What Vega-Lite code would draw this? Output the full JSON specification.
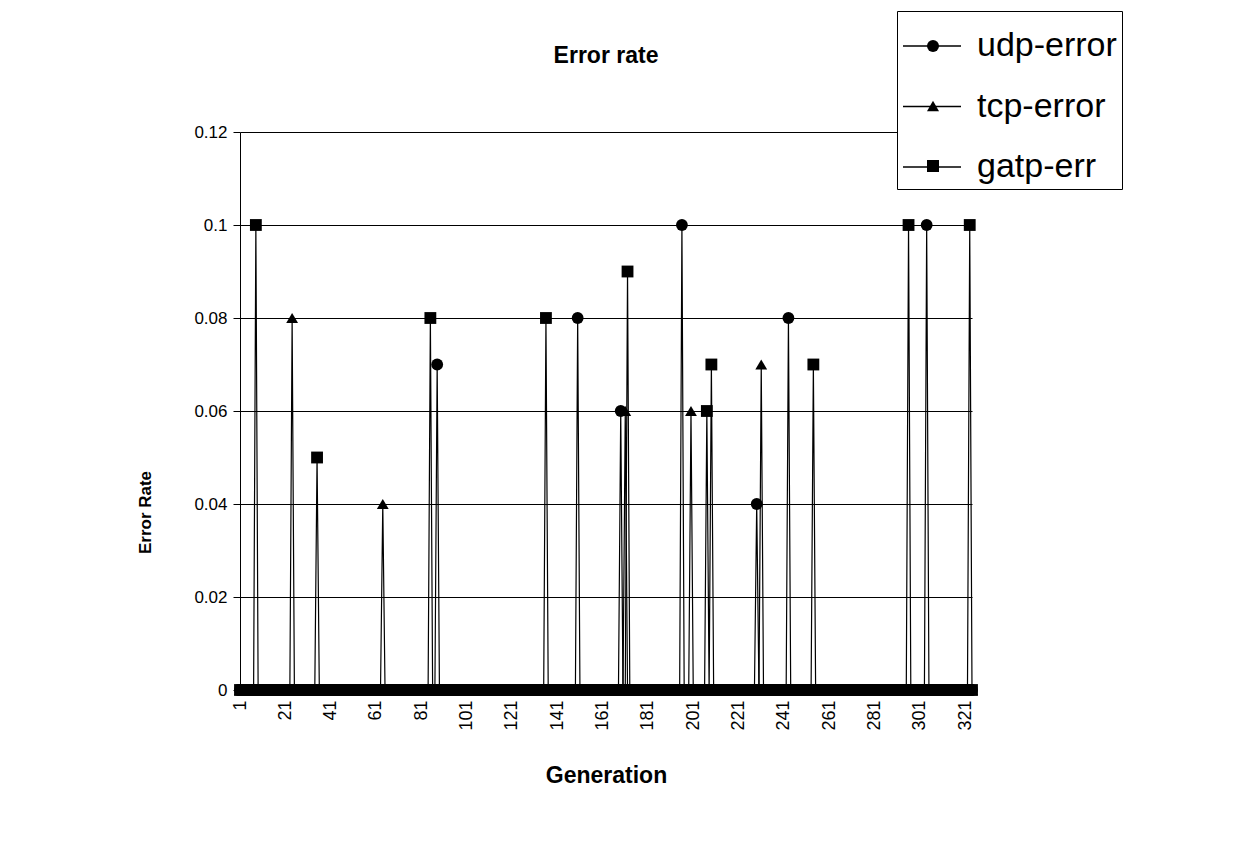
{
  "$schema": "https://vega.github.io/schema/vega-lite/v6.json",
  "width": 732,
  "height": 558,
  "autosize": "none",
  "padding": {"left": 240, "top": 132, "right": 277, "bottom": 155},
  "background": "white",
  "config": {
    "font": "Liberation Sans",
    "view": {"stroke": null},
    "axis": {"labelColor": "black", "titleColor": "black", "domainColor": "black", "tickColor": "black", "labelFont": "Liberation Sans", "titleFont": "Liberation Sans"}
  },
  "title": {"text": "Error rate", "fontSize": 23, "fontWeight": "bold", "font": "Liberation Sans", "color": "black", "anchor": "middle", "baseline": "bottom", "offset": -80},
  "data": {"values": [
{"g":1,"u":0,"t":0,"a":0},{"g":2,"u":0,"t":0,"a":0},{"g":3,"u":0,"t":0,"a":0},{"g":4,"u":0,"t":0,"a":0},{"g":5,"u":0,"t":0,"a":0},{"g":6,"u":0,"t":0,"a":0},{"g":7,"u":0,"t":0,"a":0},{"g":8,"u":0,"t":0,"a":0.1},{"g":9,"u":0,"t":0,"a":0},{"g":10,"u":0,"t":0,"a":0},
{"g":11,"u":0,"t":0,"a":0},{"g":12,"u":0,"t":0,"a":0},{"g":13,"u":0,"t":0,"a":0},{"g":14,"u":0,"t":0,"a":0},{"g":15,"u":0,"t":0,"a":0},{"g":16,"u":0,"t":0,"a":0},{"g":17,"u":0,"t":0,"a":0},{"g":18,"u":0,"t":0,"a":0},{"g":19,"u":0,"t":0,"a":0},{"g":20,"u":0,"t":0,"a":0},
{"g":21,"u":0,"t":0,"a":0},{"g":22,"u":0,"t":0,"a":0},{"g":23,"u":0,"t":0,"a":0},{"g":24,"u":0,"t":0.08,"a":0},{"g":25,"u":0,"t":0,"a":0},{"g":26,"u":0,"t":0,"a":0},{"g":27,"u":0,"t":0,"a":0},{"g":28,"u":0,"t":0,"a":0},{"g":29,"u":0,"t":0,"a":0},{"g":30,"u":0,"t":0,"a":0},
{"g":31,"u":0,"t":0,"a":0},{"g":32,"u":0,"t":0,"a":0},{"g":33,"u":0,"t":0,"a":0},{"g":34,"u":0,"t":0,"a":0},{"g":35,"u":0,"t":0,"a":0.05},{"g":36,"u":0,"t":0,"a":0},{"g":37,"u":0,"t":0,"a":0},{"g":38,"u":0,"t":0,"a":0},{"g":39,"u":0,"t":0,"a":0},{"g":40,"u":0,"t":0,"a":0},
{"g":41,"u":0,"t":0,"a":0},{"g":42,"u":0,"t":0,"a":0},{"g":43,"u":0,"t":0,"a":0},{"g":44,"u":0,"t":0,"a":0},{"g":45,"u":0,"t":0,"a":0},{"g":46,"u":0,"t":0,"a":0},{"g":47,"u":0,"t":0,"a":0},{"g":48,"u":0,"t":0,"a":0},{"g":49,"u":0,"t":0,"a":0},{"g":50,"u":0,"t":0,"a":0},
{"g":51,"u":0,"t":0,"a":0},{"g":52,"u":0,"t":0,"a":0},{"g":53,"u":0,"t":0,"a":0},{"g":54,"u":0,"t":0,"a":0},{"g":55,"u":0,"t":0,"a":0},{"g":56,"u":0,"t":0,"a":0},{"g":57,"u":0,"t":0,"a":0},{"g":58,"u":0,"t":0,"a":0},{"g":59,"u":0,"t":0,"a":0},{"g":60,"u":0,"t":0,"a":0},
{"g":61,"u":0,"t":0,"a":0},{"g":62,"u":0,"t":0,"a":0},{"g":63,"u":0,"t":0,"a":0},{"g":64,"u":0,"t":0.04,"a":0},{"g":65,"u":0,"t":0,"a":0},{"g":66,"u":0,"t":0,"a":0},{"g":67,"u":0,"t":0,"a":0},{"g":68,"u":0,"t":0,"a":0},{"g":69,"u":0,"t":0,"a":0},{"g":70,"u":0,"t":0,"a":0},
{"g":71,"u":0,"t":0,"a":0},{"g":72,"u":0,"t":0,"a":0},{"g":73,"u":0,"t":0,"a":0},{"g":74,"u":0,"t":0,"a":0},{"g":75,"u":0,"t":0,"a":0},{"g":76,"u":0,"t":0,"a":0},{"g":77,"u":0,"t":0,"a":0},{"g":78,"u":0,"t":0,"a":0},{"g":79,"u":0,"t":0,"a":0},{"g":80,"u":0,"t":0,"a":0},
{"g":81,"u":0,"t":0,"a":0},{"g":82,"u":0,"t":0,"a":0},{"g":83,"u":0,"t":0,"a":0},{"g":84,"u":0,"t":0,"a":0},{"g":85,"u":0,"t":0,"a":0.08},{"g":86,"u":0,"t":0,"a":0},{"g":87,"u":0,"t":0,"a":0},{"g":88,"u":0.07,"t":0,"a":0},{"g":89,"u":0,"t":0,"a":0},{"g":90,"u":0,"t":0,"a":0},
{"g":91,"u":0,"t":0,"a":0},{"g":92,"u":0,"t":0,"a":0},{"g":93,"u":0,"t":0,"a":0},{"g":94,"u":0,"t":0,"a":0},{"g":95,"u":0,"t":0,"a":0},{"g":96,"u":0,"t":0,"a":0},{"g":97,"u":0,"t":0,"a":0},{"g":98,"u":0,"t":0,"a":0},{"g":99,"u":0,"t":0,"a":0},{"g":100,"u":0,"t":0,"a":0},
{"g":101,"u":0,"t":0,"a":0},{"g":102,"u":0,"t":0,"a":0},{"g":103,"u":0,"t":0,"a":0},{"g":104,"u":0,"t":0,"a":0},{"g":105,"u":0,"t":0,"a":0},{"g":106,"u":0,"t":0,"a":0},{"g":107,"u":0,"t":0,"a":0},{"g":108,"u":0,"t":0,"a":0},{"g":109,"u":0,"t":0,"a":0},{"g":110,"u":0,"t":0,"a":0},
{"g":111,"u":0,"t":0,"a":0},{"g":112,"u":0,"t":0,"a":0},{"g":113,"u":0,"t":0,"a":0},{"g":114,"u":0,"t":0,"a":0},{"g":115,"u":0,"t":0,"a":0},{"g":116,"u":0,"t":0,"a":0},{"g":117,"u":0,"t":0,"a":0},{"g":118,"u":0,"t":0,"a":0},{"g":119,"u":0,"t":0,"a":0},{"g":120,"u":0,"t":0,"a":0},
{"g":121,"u":0,"t":0,"a":0},{"g":122,"u":0,"t":0,"a":0},{"g":123,"u":0,"t":0,"a":0},{"g":124,"u":0,"t":0,"a":0},{"g":125,"u":0,"t":0,"a":0},{"g":126,"u":0,"t":0,"a":0},{"g":127,"u":0,"t":0,"a":0},{"g":128,"u":0,"t":0,"a":0},{"g":129,"u":0,"t":0,"a":0},{"g":130,"u":0,"t":0,"a":0},
{"g":131,"u":0,"t":0,"a":0},{"g":132,"u":0,"t":0,"a":0},{"g":133,"u":0,"t":0,"a":0},{"g":134,"u":0,"t":0,"a":0},{"g":135,"u":0,"t":0,"a":0},{"g":136,"u":0,"t":0,"a":0.08},{"g":137,"u":0,"t":0,"a":0},{"g":138,"u":0,"t":0,"a":0},{"g":139,"u":0,"t":0,"a":0},{"g":140,"u":0,"t":0,"a":0},
{"g":141,"u":0,"t":0,"a":0},{"g":142,"u":0,"t":0,"a":0},{"g":143,"u":0,"t":0,"a":0},{"g":144,"u":0,"t":0,"a":0},{"g":145,"u":0,"t":0,"a":0},{"g":146,"u":0,"t":0,"a":0},{"g":147,"u":0,"t":0,"a":0},{"g":148,"u":0,"t":0,"a":0},{"g":149,"u":0,"t":0,"a":0},{"g":150,"u":0.08,"t":0,"a":0},
{"g":151,"u":0,"t":0,"a":0},{"g":152,"u":0,"t":0,"a":0},{"g":153,"u":0,"t":0,"a":0},{"g":154,"u":0,"t":0,"a":0},{"g":155,"u":0,"t":0,"a":0},{"g":156,"u":0,"t":0,"a":0},{"g":157,"u":0,"t":0,"a":0},{"g":158,"u":0,"t":0,"a":0},{"g":159,"u":0,"t":0,"a":0},{"g":160,"u":0,"t":0,"a":0},
{"g":161,"u":0,"t":0,"a":0},{"g":162,"u":0,"t":0,"a":0},{"g":163,"u":0,"t":0,"a":0},{"g":164,"u":0,"t":0,"a":0},{"g":165,"u":0,"t":0,"a":0},{"g":166,"u":0,"t":0,"a":0},{"g":167,"u":0,"t":0,"a":0},{"g":168,"u":0,"t":0,"a":0},{"g":169,"u":0.06,"t":0,"a":0},{"g":170,"u":0,"t":0,"a":0},
{"g":171,"u":0,"t":0.06,"a":0},{"g":172,"u":0,"t":0,"a":0.09},{"g":173,"u":0,"t":0,"a":0},{"g":174,"u":0,"t":0,"a":0},{"g":175,"u":0,"t":0,"a":0},{"g":176,"u":0,"t":0,"a":0},{"g":177,"u":0,"t":0,"a":0},{"g":178,"u":0,"t":0,"a":0},{"g":179,"u":0,"t":0,"a":0},{"g":180,"u":0,"t":0,"a":0},
{"g":181,"u":0,"t":0,"a":0},{"g":182,"u":0,"t":0,"a":0},{"g":183,"u":0,"t":0,"a":0},{"g":184,"u":0,"t":0,"a":0},{"g":185,"u":0,"t":0,"a":0},{"g":186,"u":0,"t":0,"a":0},{"g":187,"u":0,"t":0,"a":0},{"g":188,"u":0,"t":0,"a":0},{"g":189,"u":0,"t":0,"a":0},{"g":190,"u":0,"t":0,"a":0},
{"g":191,"u":0,"t":0,"a":0},{"g":192,"u":0,"t":0,"a":0},{"g":193,"u":0,"t":0,"a":0},{"g":194,"u":0,"t":0,"a":0},{"g":195,"u":0,"t":0,"a":0},{"g":196,"u":0.1,"t":0,"a":0},{"g":197,"u":0,"t":0,"a":0},{"g":198,"u":0,"t":0,"a":0},{"g":199,"u":0,"t":0,"a":0},{"g":200,"u":0,"t":0.06,"a":0},
{"g":201,"u":0,"t":0,"a":0},{"g":202,"u":0,"t":0,"a":0},{"g":203,"u":0,"t":0,"a":0},{"g":204,"u":0,"t":0,"a":0},{"g":205,"u":0,"t":0,"a":0},{"g":206,"u":0,"t":0,"a":0},{"g":207,"u":0,"t":0,"a":0.06},{"g":208,"u":0,"t":0,"a":0},{"g":209,"u":0,"t":0,"a":0.07},{"g":210,"u":0,"t":0,"a":0},
{"g":211,"u":0,"t":0,"a":0},{"g":212,"u":0,"t":0,"a":0},{"g":213,"u":0,"t":0,"a":0},{"g":214,"u":0,"t":0,"a":0},{"g":215,"u":0,"t":0,"a":0},{"g":216,"u":0,"t":0,"a":0},{"g":217,"u":0,"t":0,"a":0},{"g":218,"u":0,"t":0,"a":0},{"g":219,"u":0,"t":0,"a":0},{"g":220,"u":0,"t":0,"a":0},
{"g":221,"u":0,"t":0,"a":0},{"g":222,"u":0,"t":0,"a":0},{"g":223,"u":0,"t":0,"a":0},{"g":224,"u":0,"t":0,"a":0},{"g":225,"u":0,"t":0,"a":0},{"g":226,"u":0,"t":0,"a":0},{"g":227,"u":0,"t":0,"a":0},{"g":228,"u":0,"t":0,"a":0},{"g":229,"u":0.04,"t":0,"a":0},{"g":230,"u":0,"t":0,"a":0},
{"g":231,"u":0,"t":0.07,"a":0},{"g":232,"u":0,"t":0,"a":0},{"g":233,"u":0,"t":0,"a":0},{"g":234,"u":0,"t":0,"a":0},{"g":235,"u":0,"t":0,"a":0},{"g":236,"u":0,"t":0,"a":0},{"g":237,"u":0,"t":0,"a":0},{"g":238,"u":0,"t":0,"a":0},{"g":239,"u":0,"t":0,"a":0},{"g":240,"u":0,"t":0,"a":0},
{"g":241,"u":0,"t":0,"a":0},{"g":242,"u":0,"t":0,"a":0},{"g":243,"u":0.08,"t":0,"a":0},{"g":244,"u":0,"t":0,"a":0},{"g":245,"u":0,"t":0,"a":0},{"g":246,"u":0,"t":0,"a":0},{"g":247,"u":0,"t":0,"a":0},{"g":248,"u":0,"t":0,"a":0},{"g":249,"u":0,"t":0,"a":0},{"g":250,"u":0,"t":0,"a":0},
{"g":251,"u":0,"t":0,"a":0},{"g":252,"u":0,"t":0,"a":0},{"g":253,"u":0,"t":0,"a":0},{"g":254,"u":0,"t":0,"a":0.07},{"g":255,"u":0,"t":0,"a":0},{"g":256,"u":0,"t":0,"a":0},{"g":257,"u":0,"t":0,"a":0},{"g":258,"u":0,"t":0,"a":0},{"g":259,"u":0,"t":0,"a":0},{"g":260,"u":0,"t":0,"a":0},
{"g":261,"u":0,"t":0,"a":0},{"g":262,"u":0,"t":0,"a":0},{"g":263,"u":0,"t":0,"a":0},{"g":264,"u":0,"t":0,"a":0},{"g":265,"u":0,"t":0,"a":0},{"g":266,"u":0,"t":0,"a":0},{"g":267,"u":0,"t":0,"a":0},{"g":268,"u":0,"t":0,"a":0},{"g":269,"u":0,"t":0,"a":0},{"g":270,"u":0,"t":0,"a":0},
{"g":271,"u":0,"t":0,"a":0},{"g":272,"u":0,"t":0,"a":0},{"g":273,"u":0,"t":0,"a":0},{"g":274,"u":0,"t":0,"a":0},{"g":275,"u":0,"t":0,"a":0},{"g":276,"u":0,"t":0,"a":0},{"g":277,"u":0,"t":0,"a":0},{"g":278,"u":0,"t":0,"a":0},{"g":279,"u":0,"t":0,"a":0},{"g":280,"u":0,"t":0,"a":0},
{"g":281,"u":0,"t":0,"a":0},{"g":282,"u":0,"t":0,"a":0},{"g":283,"u":0,"t":0,"a":0},{"g":284,"u":0,"t":0,"a":0},{"g":285,"u":0,"t":0,"a":0},{"g":286,"u":0,"t":0,"a":0},{"g":287,"u":0,"t":0,"a":0},{"g":288,"u":0,"t":0,"a":0},{"g":289,"u":0,"t":0,"a":0},{"g":290,"u":0,"t":0,"a":0},
{"g":291,"u":0,"t":0,"a":0},{"g":292,"u":0,"t":0,"a":0},{"g":293,"u":0,"t":0,"a":0},{"g":294,"u":0,"t":0,"a":0},{"g":295,"u":0,"t":0,"a":0},{"g":296,"u":0,"t":0,"a":0.1},{"g":297,"u":0,"t":0,"a":0},{"g":298,"u":0,"t":0,"a":0},{"g":299,"u":0,"t":0,"a":0},{"g":300,"u":0,"t":0,"a":0},
{"g":301,"u":0,"t":0,"a":0},{"g":302,"u":0,"t":0,"a":0},{"g":303,"u":0,"t":0,"a":0},{"g":304,"u":0.1,"t":0,"a":0},{"g":305,"u":0,"t":0,"a":0},{"g":306,"u":0,"t":0,"a":0},{"g":307,"u":0,"t":0,"a":0},{"g":308,"u":0,"t":0,"a":0},{"g":309,"u":0,"t":0,"a":0},{"g":310,"u":0,"t":0,"a":0},
{"g":311,"u":0,"t":0,"a":0},{"g":312,"u":0,"t":0,"a":0},{"g":313,"u":0,"t":0,"a":0},{"g":314,"u":0,"t":0,"a":0},{"g":315,"u":0,"t":0,"a":0},{"g":316,"u":0,"t":0,"a":0},{"g":317,"u":0,"t":0,"a":0},{"g":318,"u":0,"t":0,"a":0},{"g":319,"u":0,"t":0,"a":0},{"g":320,"u":0,"t":0,"a":0},
{"g":321,"u":0,"t":0,"a":0},{"g":322,"u":0,"t":0,"a":0},{"g":323,"u":0,"t":0,"a":0.1},{"g":324,"u":0,"t":0,"a":0}
  ]},
  "transform": [{"fold": ["u", "t", "a"], "as": ["s", "v"]}],
  "encoding": {
    "x": {"field": "g", "type": "quantitative", "title": "Generation",
      "scale": {"domain": [1, 324], "nice": false, "zero": false},
      "axis": {"values": [1,21,41,61,81,101,121,141,161,181,201,221,241,261,281,301,321], "format": "d", "labelAngle": -90, "labelFontSize": 18, "labelPadding": 10, "ticks": false, "grid": false, "domain": true, "titleFontSize": 23, "titleFontWeight": "bold", "titleY": 85, "titleBaseline": "middle"}},
    "y": {"field": "v", "type": "quantitative", "title": "Error Rate",
      "scale": {"domain": [0, 0.12], "nice": false},
      "axis": {"values": [0,0.02,0.04,0.06,0.08,0.1,0.12], "format": ".2~f", "labelFontSize": 17, "tickSize": 7, "labelPadding": 6, "grid": true, "gridColor": "black", "gridOpacity": 1, "gridWidth": 1, "titleFontSize": 17, "titleFontWeight": "bold", "titleX": -95, "titleY": 380, "titleAlign": "center", "titleBaseline": "middle", "titleAngle": -90}}
  },
  "layer": [
    {"mark": {"type": "line", "strokeWidth": 1.2},
     "encoding": {"color": {"field": "s", "type": "nominal",
        "scale": {"domain": ["u", "t", "a"], "range": ["black", "black", "black"]},
        "legend": {"orient": "none", "legendX": 657, "legendY": -121, "title": null,
          "strokeColor": "black", "fillColor": "white", "padding": 5, "rowPadding": 13.5,
          "labelFontSize": 34, "labelFont": "Liberation Sans", "labelColor": "black", "labelOffset": 15,
          "symbolType": "stroke", "symbolSize": 3364, "symbolStrokeWidth": 1.3, "symbolStrokeColor": "black",
          "labelExpr": "datum.value === 'u' ? 'udp-error' : datum.value === 't' ? 'tcp-error' : 'gatp-err'"}}}},
    {"mark": {"type": "point", "filled": true, "color": "black", "opacity": 1, "size": 140},
     "encoding": {"shape": {"field": "s", "type": "nominal", "sort": ["u", "t", "a"],
        "scale": {"range": ["circle", "triangle-up", "square"]},
        "legend": {"orient": "none", "legendX": 687, "legendY": -92, "title": null,
          "strokeColor": null, "fillColor": null, "padding": 0, "rowPadding": 48,
          "labelFontSize": 1, "labelOpacity": 0, "labelOffset": 0, "labelExpr": "''",
          "symbolSize": 144, "symbolStrokeWidth": 0, "symbolFillColor": "black", "symbolOpacity": 1}}}}
  ]
}
